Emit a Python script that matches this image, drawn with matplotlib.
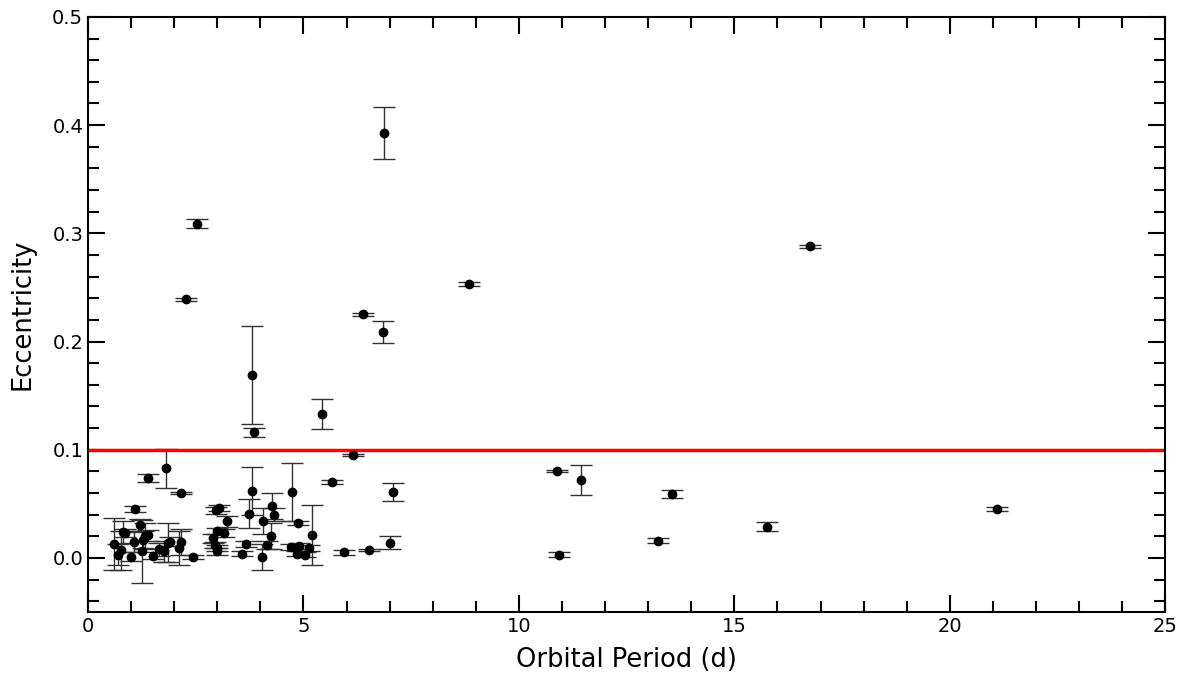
import numpy as np
import matplotlib
matplotlib.use("Agg")
import matplotlib.pyplot as plt

# orbital period (d), eccentricity, eccentricity error
period = [6.87, 2.53, 2.27, 16.76, 8.84, 6.38, 6.85, 3.81, 3.85, 5.43,
          6.15, 5.66, 7.08, 7.01, 5.95, 6.52, 10.89, 10.93, 11.44, 13.23,
          13.56, 15.76, 21.1, 1.81, 1.39, 2.16,
          0.60, 0.70, 0.77, 0.81, 0.86, 1.00, 1.07, 1.09, 1.21, 1.25,
          1.28, 1.32, 1.39, 1.51, 1.65, 1.76, 1.86, 1.90, 2.11, 2.16, 2.44,
          2.97, 3.03, 3.22, 3.74, 3.81, 4.73, 4.27, 4.32, 4.06, 4.87,
          2.99, 3.16, 2.90, 2.95, 2.99, 2.99, 3.67, 3.57, 4.04, 4.25,
          4.16, 4.71, 4.90, 4.85, 5.04, 5.13, 5.20]
ecc = [0.393, 0.309, 0.239, 0.288, 0.253, 0.225, 0.209, 0.169, 0.116, 0.133,
       0.095, 0.070, 0.061, 0.014, 0.005, 0.007, 0.080, 0.003, 0.072, 0.016,
       0.059, 0.029, 0.045, 0.083, 0.074, 0.060,
       0.013, 0.003, 0.007, 0.024, 0.023, 0.001, 0.015, 0.045, 0.030, 0.006,
       0.017, 0.020, 0.021, 0.002, 0.008, 0.006, 0.014, 0.015, 0.009, 0.015, 0.001,
       0.044, 0.046, 0.034, 0.041, 0.062, 0.061, 0.048, 0.040, 0.034, 0.032,
       0.025, 0.023, 0.018, 0.012, 0.009, 0.006, 0.013, 0.004, 0.001, 0.020,
       0.012, 0.010, 0.011, 0.004, 0.003, 0.009, 0.021]
ecc_err = [0.024, 0.004, 0.0015, 0.0012, 0.002, 0.0012, 0.010, 0.045, 0.004, 0.014,
           0.001, 0.002, 0.008, 0.006, 0.002, 0.001, 0.001, 0.002, 0.014, 0.002,
           0.004, 0.004, 0.002, 0.018, 0.004, 0.001,
           0.024, 0.010, 0.018, 0.010, 0.004, 0.004, 0.010, 0.003, 0.006, 0.029,
           0.008, 0.012, 0.005, 0.003, 0.006, 0.010, 0.018, 0.004, 0.016, 0.012, 0.002,
           0.003, 0.003, 0.005, 0.013, 0.022, 0.027, 0.012, 0.006, 0.012, 0.002,
           0.003, 0.004, 0.004, 0.003, 0.003, 0.003, 0.003, 0.002, 0.012, 0.012,
           0.004, 0.003, 0.003, 0.002, 0.002, 0.003, 0.028]

cut = 0.1

fig = plt.figure(figsize=(11.85, 6.77), dpi=100)
ax = fig.add_axes([0.0743, 0.096, 0.909, 0.879])

ax.errorbar(period, ecc, yerr=ecc_err, fmt='o', color='black', ms=6,
            ecolor='#333333', elinewidth=1, capsize=8, capthick=1)
ax.axhline(cut, color='red', lw=2.5)

ax.set_xlim(0, 25)
ax.set_ylim(-0.05, 0.5)
ax.set_xticks([0, 5, 10, 15, 20, 25])
ax.set_yticks([0.0, 0.1, 0.2, 0.3, 0.4, 0.5])
ax.set_xticks(np.arange(0, 25.1, 1), minor=True)
ax.set_yticks(np.arange(-0.04, 0.5, 0.02), minor=True)
ax.tick_params(which='both', direction='in', top=True, right=True,
               labelsize=14, width=1.5)
ax.tick_params(which='major', length=12)
ax.tick_params(which='minor', length=8)
for s in ax.spines.values():
    s.set_linewidth(1.5)

ax.set_xlabel('Orbital Period (d)', fontsize=18.5, labelpad=8)
ax.set_ylabel('Eccentricity', fontsize=18.5, labelpad=12)

fig.savefig('out.png', dpi=100)
